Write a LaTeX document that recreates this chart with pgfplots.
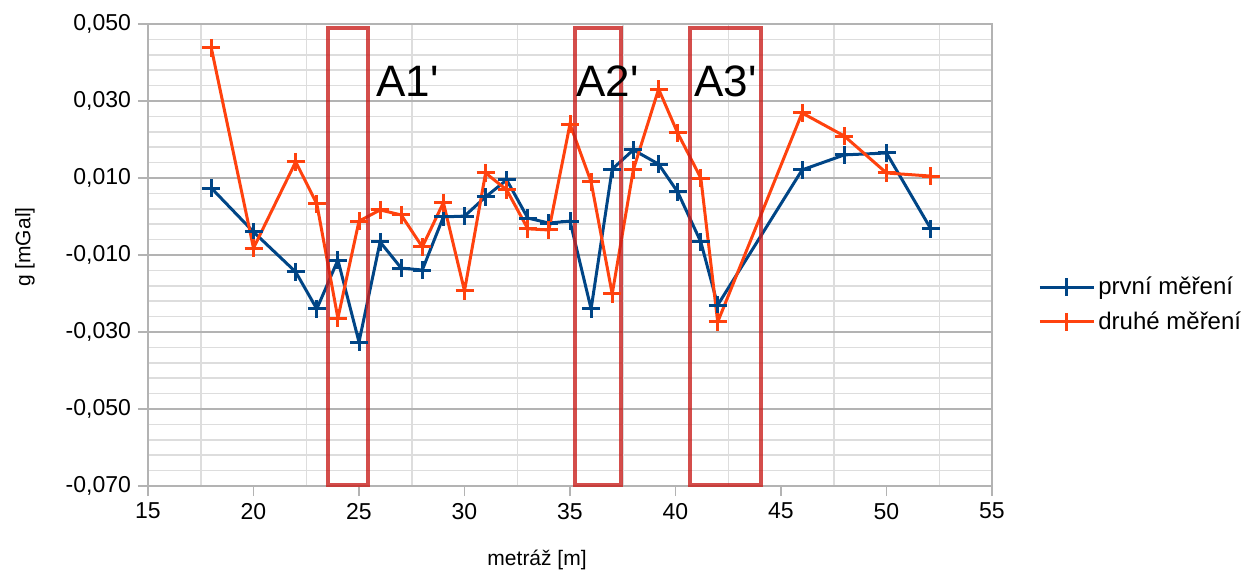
\documentclass[border=0pt]{standalone}
\usepackage{fontspec}
\setmainfont{Liberation Sans}
\usepackage{pgfplots}
\pgfplotsset{compat=1.18}
\definecolor{blueS}{HTML}{004586}
\definecolor{orangeS}{HTML}{FF420E}
\definecolor{boxred}{HTML}{C9211E}
\definecolor{gridmaj}{HTML}{B3B3B3}
\definecolor{gridmin}{HTML}{DDDDDD}
\begin{document}
\begin{tikzpicture}
\begin{axis}[
  at={(0,0)}, anchor=south west,
  scale only axis, width=422bp, height=231bp,
  xmin=15, xmax=55, ymin=-0.07, ymax=0.05,
  clip=false,
  xtick={15,20,25,30,35,40,45,50,55},
  minor xtick={17.5,22.5,27.5,32.5,37.5,42.5,47.5,52.5},
  ytick={-0.07,-0.05,-0.03,-0.01,0.01,0.03,0.05},
  minor y tick num=4,
  xminorgrids, ymajorgrids, yminorgrids,
  major grid style={draw=gridmaj, line width=0.75bp},
  minor grid style={draw=gridmin, line width=0.75bp},
  axis line style={draw=gridmaj, line width=0.75bp},
  tick align=outside, xtick pos=left, ytick pos=left,
  major tick length=5bp, minor tick length=0pt,
  every tick/.style={draw=gridmaj, line width=0.75bp},
  scaled y ticks=false,
  yticklabel style={/pgf/number format/.cd, fixed, fixed zerofill, precision=3, use comma},
  /pgf/number format/assume math mode=true,
  ticklabel style={font=\fontsize{11.5bp}{13bp}\selectfont},
  xlabel={metráž [m]}, ylabel={g [mGal]},
  label style={font=\fontsize{10.5bp}{12bp}\selectfont},
  xlabel style={at={(axis description cs:0.461,-0.160)}, anchor=center},
  ylabel style={at={(axis description cs:-0.1457,0.517)}, anchor=center},
  legend style={draw=none, fill=none, at={(axis description cs:1,0.393)}, anchor=west, xshift=23bp,
    font=\fontsize{12bp}{14bp}\selectfont, row sep=4bp, inner sep=0pt, nodes={inner sep=1.5bp}},
  legend cell align=left,
  legend image code/.code={\draw[mark repeat=2, mark phase=2] plot coordinates {(0bp,0bp) (13.5bp,0bp) (27bp,0bp)};},
]
\addplot[blueS, line width=1.5bp, mark=+, mark size=4.5bp, mark options={line width=1.5bp}] coordinates {
(18,0.0074) (20,-0.0040) (22,-0.0144) (23,-0.0240) (24,-0.0113) (25,-0.0326)
(26,-0.0066) (27,-0.0134) (28,-0.0139) (29,-0.0001) (30,0.0001) (31,0.0051)
(32,0.0095) (33,-0.0004) (34,-0.0017) (35,-0.0012) (36,-0.0240) (37,0.0123)
(38,0.0173) (39.2,0.0136) (40.1,0.0064) (41.2,-0.0066) (42,-0.0230)
(46,0.0121) (48,0.0160) (50,0.0165) (52.1,-0.0032)
};
\addlegendentry{první měření}
\addplot[orangeS, line width=1.5bp, mark=+, mark size=4.5bp, mark options={line width=1.5bp}] coordinates {
(18,0.0438) (20,-0.0082) (22,0.0142) (23,0.0033) (24,-0.0264) (25,-0.0012)
(26,0.0017) (27,0.0004) (28,-0.0079) (29,0.0036) (30,-0.0193) (31,0.0113)
(32,0.0069) (33,-0.0032) (34,-0.0035) (35,0.0240) (36,0.0090) (37,-0.0201)
(38,0.0121) (39.2,0.0331) (40.1,0.0217) (41.2,0.0100) (42,-0.0274)
(46,0.0269) (48,0.0209) (50,0.0113) (52.1,0.0105)
};
\addlegendentry{druhé měření}
\draw[boxred, draw opacity=0.8, line width=2bp] (axis cs:23.53,-0.0697) rectangle (axis cs:25.43,0.0490);
\draw[boxred, draw opacity=0.8, line width=2bp] (axis cs:35.24,-0.0697) rectangle (axis cs:37.42,0.0490);
\draw[boxred, draw opacity=0.8, line width=2bp] (axis cs:40.69,-0.0697) rectangle (axis cs:44.05,0.0490);
\node[anchor=base west, inner sep=0pt, font=\fontsize{22bp}{26bp}\selectfont] at (axis cs:25.81,0.0311) {A1\textquotesingle};
\node[anchor=base west, inner sep=0pt, font=\fontsize{22bp}{26bp}\selectfont] at (axis cs:35.28,0.0311) {A2\textquotesingle};
\node[anchor=base west, inner sep=0pt, font=\fontsize{22bp}{26bp}\selectfont] at (axis cs:40.88,0.0311) {A3\textquotesingle};
\end{axis}
\path[use as bounding box] (-74bp,-42bp) rectangle (548.5bp,243bp);
\end{tikzpicture}
\end{document}
